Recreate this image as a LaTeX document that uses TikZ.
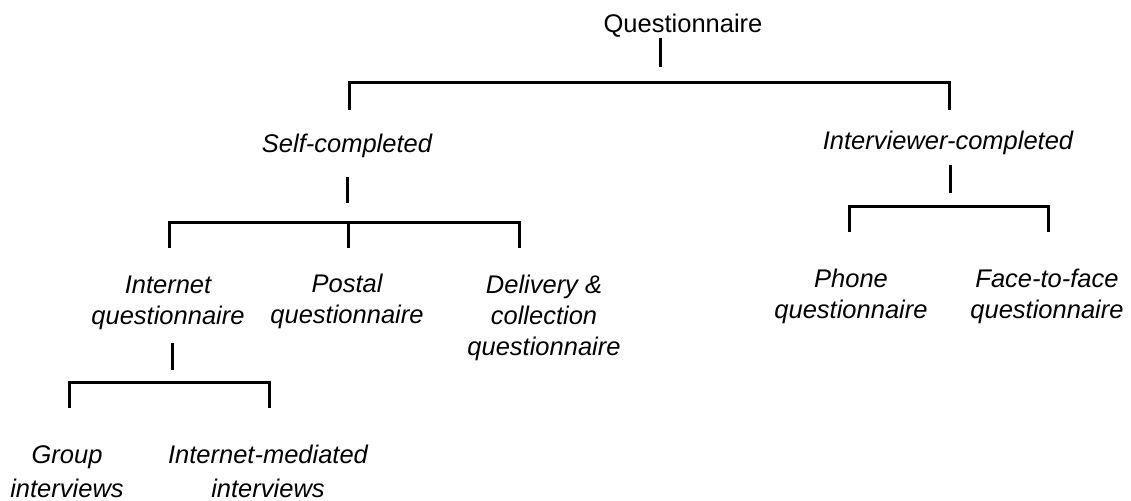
\documentclass[tikz,border=0pt]{standalone}
\usepackage{fontspec}
\setmainfont{Liberation Sans}
\begin{document}
\begin{tikzpicture}[x=1pt,y=-1pt,
  lbl/.style={inner sep=0pt, anchor=base, align=center,
    font=\fontsize{25.5}{31}\selectfont},
  cat/.style={lbl, font=\fontsize{25.5}{31}\selectfont\itshape},
  widecat/.style={lbl, font=\fontsize{25.5}{34}\selectfont\itshape},
  bar/.style={line width=3pt, line join=miter, line cap=butt}]
\useasboundingbox (0,0) rectangle (1131,500);

% labels, placed by the baseline of their last line
\node[lbl] (q)    at (683,33)  {Questionnaire};
\node[cat] (self) at (347,152) {Self-completed};
\node[cat] (intv) at (948,149) {Interviewer-completed};
\node[cat] (inet) at (168,324) {Internet\\questionnaire};
\node[cat] (post) at (347,323) {Postal\\questionnaire};
\node[cat] (deliv) at (544,355) {Delivery \&\\collection\\questionnaire};
\node[cat] (phone) at (851,318) {Phone\\questionnaire};
\node[cat] (f2f)  at (1047,318) {Face-to-face\\questionnaire};
\node[widecat] (grp)  at (67,497)  {Group\\interviews};
\node[widecat] (imed) at (268,497) {Internet-mediated\\interviews};

% stem and bracket points of each branch
\coordinate (q-s1) at (660,38);   \coordinate (q-s2) at (660,67);
\coordinate (q-l) at (349,110);   \coordinate (q-r) at (949,110);
\coordinate (q-h) at (0,83);

\coordinate (self-s1) at (347,177); \coordinate (self-s2) at (347,203);
\coordinate (self-l) at (169,248);  \coordinate (self-m) at (348,248);
\coordinate (self-r) at (519,248);  \coordinate (self-h) at (0,222);

\coordinate (intv-s1) at (950,165); \coordinate (intv-s2) at (950,193);
\coordinate (intv-l) at (849,232);  \coordinate (intv-r) at (1048,232);
\coordinate (intv-h) at (0,206);

\coordinate (inet-s1) at (172,343); \coordinate (inet-s2) at (172,370);
\coordinate (inet-l) at (69,408);   \coordinate (inet-r) at (269,408);
\coordinate (inet-h) at (0,382);

% stems below each parent label
\draw[bar] (q-s1) -- (q-s2);
\draw[bar] (self-s1) -- (self-s2);
\draw[bar] (intv-s1) -- (intv-s2);
\draw[bar] (inet-s1) -- (inet-s2);

% brackets over the children
\draw[bar] (q-l) -- (q-l |- q-h) -- (q-r |- q-h) -- (q-r);
\draw[bar] (self-l) -- (self-l |- self-h) -- (self-r |- self-h) -- (self-r);
\draw[bar] (self-m |- self-h) -- (self-m);
\draw[bar] (intv-l) -- (intv-l |- intv-h) -- (intv-r |- intv-h) -- (intv-r);
\draw[bar] (inet-l) -- (inet-l |- inet-h) -- (inet-r |- inet-h) -- (inet-r);
\end{tikzpicture}
\end{document}
